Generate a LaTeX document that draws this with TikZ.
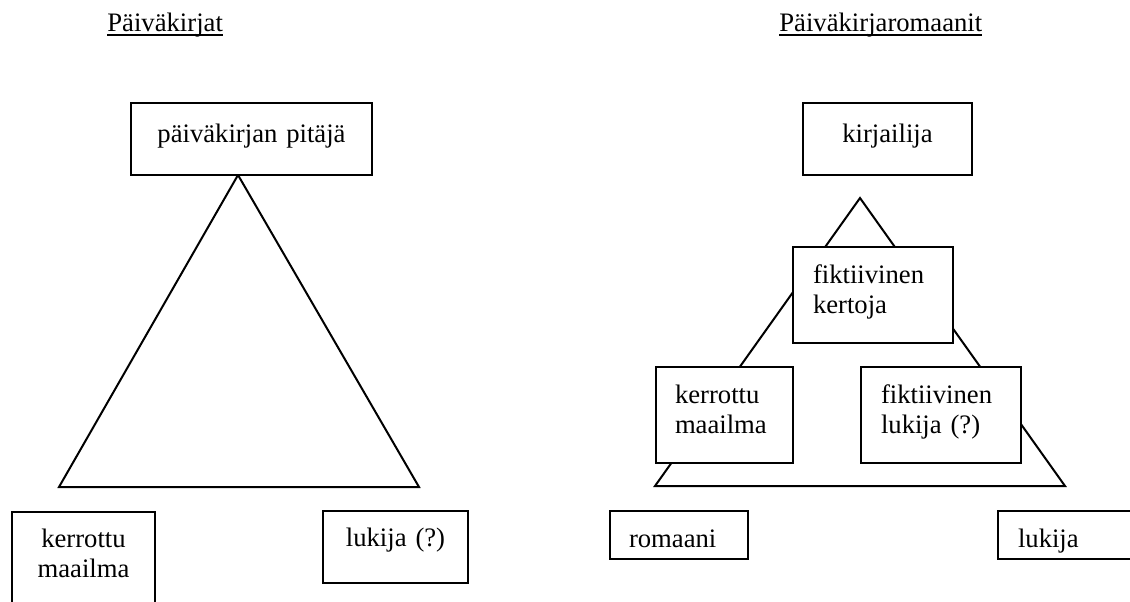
\documentclass[tikz,border=0pt]{standalone}
\usepackage{fontspec}
\setmainfont{Liberation Serif}
\newcommand{\titleul}[1]{\setbox0\hbox{#1}\rlap{\rule[-2.25pt]{\wd0}{1pt}}\box0}
\usepackage{tikz}
\usetikzlibrary{positioning, calc}
\tikzset{
	boxnode/.style={
			draw=black,
			fill=white,
			line width=1pt,
			anchor=north west,
			inner sep=0pt,
			align=center
		},
	leftboxnode/.style={
			boxnode,
			align=left,
			text height=18pt
		},
	titlenode/.style={
			anchor=base west,
			inner sep=0pt
		},
	triline/.style={
			draw=black,
			line width=1pt,
			line join=miter
		}
}

\begin{document}
\begin{tikzpicture}[x=0.5pt, y=-0.5pt, font=\fontsize{13.33}{15}\selectfont]
\path[use as bounding box, clip] (0,0) rectangle (1130,601);
    % titles
    \node[titlenode] (t1) at (107,31) {\titleul{Päiväkirjat}};
    \node[titlenode] (t2) at (779,31) {\titleul{Päiväkirjaromaanit}};

    % triangles first, boxes sit on top of them
    \coordinate (a1) at (238,175);
    \coordinate (b1) at (59,487);
    \coordinate (c1) at (419,487);
    \coordinate (a2) at (860,198);
    \coordinate (b2) at (655,486);
    \coordinate (c2) at (1065,486);
    \draw[triline] (a1) -- (b1) -- (c1) -- cycle;
    \draw[triline] (a2) -- (b2) -- (c2) -- cycle;

    % Paivakirjat
    \node[boxnode, text width=120.5pt, text height=19.5pt, text depth=16.5pt] (pitaja) at (130,102) {päiväkirjan pitäjä};
    \node[boxnode, text width=71.5pt, text height=17.5pt, text depth=39.5pt] (maailma1) at (11,511) {kerrottu\\maailma};
    \node[boxnode, text width=72.5pt, text height=17.5pt, text depth=18.5pt] (lukija1) at (322,510) {lukija (?)};

    % Paivakirjaromaanit
    \node[boxnode, text width=84.5pt, text height=19.5pt, text depth=16.5pt] (kirjailija) at (802,102) {kirjailija};
    \node[leftboxnode, inner xsep=10pt, text width=60pt, text depth=30pt] (kertoja) at (792,246) {fiktiivinen\\kertoja};
    \node[leftboxnode, inner xsep=9.5pt, text width=49.5pt, text depth=30pt] (maailma2) at (655,366) {kerrottu\\maailma};
    \node[leftboxnode, inner xsep=10pt, text width=60pt, text depth=30pt] (flukija) at (860,366) {fiktiivinen\\lukija (?)};
    \node[leftboxnode, inner xsep=9.5pt, text width=50pt, text depth=6pt] (romaani) at (609,510) {romaani};
    \node[leftboxnode, inner xsep=10pt, text width=65pt, text depth=6pt] (lukija2) at (997,510) {lukija};

\end{tikzpicture}
\end{document}
